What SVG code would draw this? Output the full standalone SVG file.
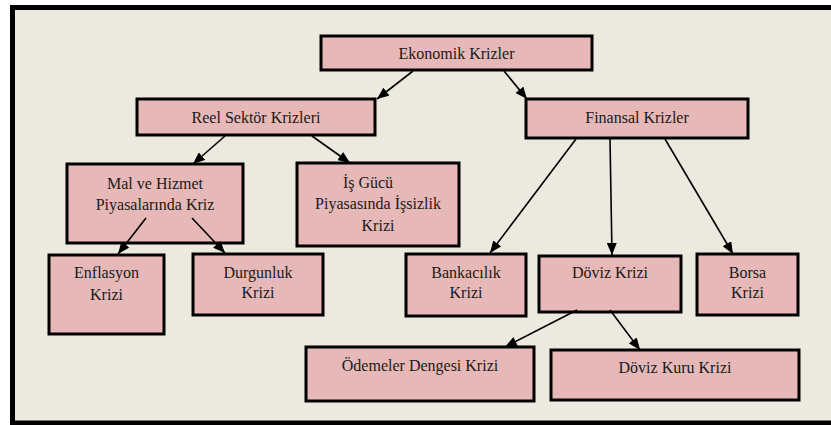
<svg xmlns="http://www.w3.org/2000/svg" width="831" height="425" viewBox="0 0 831 425">
<style>
.box{fill:#E6B8B7;stroke:#000;stroke-width:3}
text{font-family:'Liberation Serif','Times New Roman',Times,serif;font-size:16px;fill:#1a1a1a;text-anchor:middle}
.c line{stroke:#000;stroke-width:1.6;marker-end:url(#ah)}
</style>
<defs>
<marker id="ah" viewBox="0 0 12 10" refX="12" refY="5" markerWidth="12" markerHeight="10" markerUnits="userSpaceOnUse" orient="auto">
<path d="M0,0 L12,5 L0,10 Z" fill="#000"/>
</marker>
</defs>
<rect x="12.5" y="7.5" width="830" height="415.5" fill="#ECEADF" stroke="#000" stroke-width="5"/>
<g font-family="Liberation Serif, serif">
<g id="ekonomik"><rect class="box" x="321" y="36" width="271" height="34"/><text x="456.5" y="59">Ekonomik Krizler</text></g>
<g id="reel"><rect class="box" x="137" y="99" width="238" height="36"/><text x="256" y="123">Reel Sektör Krizleri</text></g>
<g id="finansal"><rect class="box" x="526" y="99" width="222" height="39"/><text x="637" y="123">Finansal Krizler</text></g>
<g id="mal"><rect class="box" x="67" y="164" width="176" height="79"/><text x="155" y="189">Mal ve Hizmet</text><text x="155" y="210">Piyasalarında Kriz</text></g>
<g id="isgucu"><rect class="box" x="297" y="163" width="162" height="83"/><text x="368" y="188">İş Gücü</text><text x="378" y="209">Piyasasında İşsizlik</text><text x="378" y="231">Krizi</text></g>
<g id="enflasyon"><rect class="box" x="49" y="255" width="115" height="79"/><text x="106.5" y="278">Enflasyon</text><text x="106.5" y="300">Krizi</text></g>
<g id="durgunluk"><rect class="box" x="193" y="254" width="130" height="61"/><text x="258" y="278">Durgunluk</text><text x="258" y="298">Krizi</text></g>
<g id="bankacilik"><rect class="box" x="406" y="254" width="120" height="62"/><text x="466" y="278">Bankacılık</text><text x="466" y="298">Krizi</text></g>
<g id="doviz"><rect class="box" x="539" y="256" width="142" height="56"/><text x="610" y="278">Döviz Krizi</text></g>
<g id="borsa"><rect class="box" x="697" y="254" width="101" height="61"/><text x="747.5" y="278">Borsa</text><text x="747.5" y="298">Krizi</text></g>
<g id="odemeler"><rect class="box" x="306" y="347" width="228" height="54"/><text x="420" y="371">Ödemeler Dengesi Krizi</text></g>
<g id="dovizkuru"><rect class="box" x="551" y="350" width="248" height="50"/><text x="675" y="373">Döviz Kuru Krizi</text></g>
</g>
<g class="c" id="connectors">
<line x1="413" y1="71" x2="377" y2="99"/>
<line x1="504" y1="71" x2="527" y2="99"/>
<line x1="225" y1="136" x2="193" y2="164"/>
<line x1="312" y1="136" x2="350" y2="163"/>
<line x1="146" y1="218" x2="118" y2="254"/>
<line x1="192" y1="218" x2="225" y2="253"/>
<line x1="576" y1="139" x2="490" y2="253"/>
<line x1="610" y1="139" x2="612" y2="255"/>
<line x1="665" y1="139" x2="733" y2="254"/>
<line x1="577" y1="310" x2="505" y2="347"/>
<line x1="610" y1="310" x2="640" y2="350"/>
</g>
</svg>
